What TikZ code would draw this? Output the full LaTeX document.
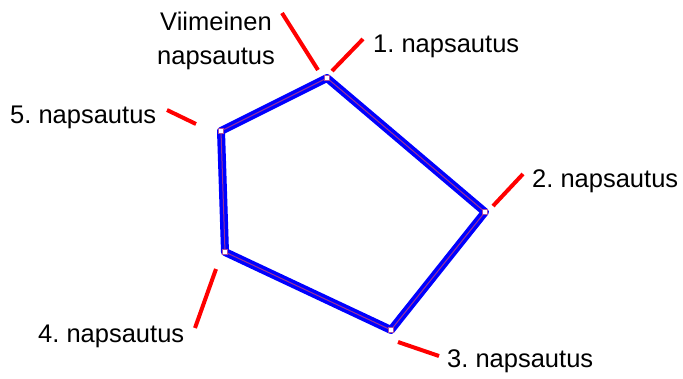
\documentclass[tikz,border=0pt]{standalone}
\usepackage{fontspec}
\setmainfont{Liberation Sans}
\usetikzlibrary{positioning}
\frenchspacing
\tikzset{
  clicklabel/.style = {
    font=\fontsize{25.5}{34}\selectfont,
    inner sep=0pt
  },
  polyedge/.style = {
    draw=blue,
    line width=8pt,
    line join=round
  },
  polycore/.style = {
    draw=violet!80,
    line width=1pt
  },
  clickpoint/.style = {
    rectangle,
    draw=violet!70,
    fill=white,
    line width=0.8pt,
    minimum size=4.5pt,
    inner sep=0pt
  },
  pointer/.style = {
    draw=red,
    line width=4pt
  }
}

\begin{document}
\begin{tikzpicture}[x=1pt,y=-1pt]
    \useasboundingbox (0,0) rectangle (683,378);
    % kulmat
    \coordinate (p1) at (327,78);
    \coordinate (p2) at (485,212);
    \coordinate (p3) at (391,330);
    \coordinate (p4) at (225,252);
    \coordinate (p5) at (221,131);
    \draw[polyedge] (p1) -- (p2) -- (p3) -- (p4) -- (p5) -- cycle;
    \draw[polycore] (p1) -- (p2) -- (p3) -- (p4) -- (p5) -- cycle;
    \foreach \p in {p1,p2,p3,p4,p5}
      \node[clickpoint] at (\p) {};
    % tekstit
    \node[clicklabel, align=center, anchor=south] (last) at (216,70) {Viimeinen\\napsautus};
    \node[clicklabel, anchor=base west] (l1) at (373,52) {1. napsautus};
    \node[clicklabel, anchor=base west] (l2) at (532,187) {2. napsautus};
    \node[clicklabel, anchor=base west] (l3) at (447,367) {3. napsautus};
    \node[clicklabel, anchor=base west] (l4) at (38,342) {4. napsautus};
    \node[clicklabel, anchor=base west] (l5) at (10,123) {5. napsautus};
    % viivat
    \coordinate (a0) at (282,13);  \coordinate (b0) at (318,70);
    \coordinate (a1) at (363,39);  \coordinate (b1) at (332,71);
    \coordinate (a2) at (523,174); \coordinate (b2) at (493,206);
    \coordinate (a3) at (439,356); \coordinate (b3) at (398,342);
    \coordinate (a4) at (195,328); \coordinate (b4) at (216,269);
    \coordinate (a5) at (167,110); \coordinate (b5) at (196,124);
    \foreach \i in {0,...,5}
      \draw[pointer] (a\i) -- (b\i);
\end{tikzpicture}
\end{document}
